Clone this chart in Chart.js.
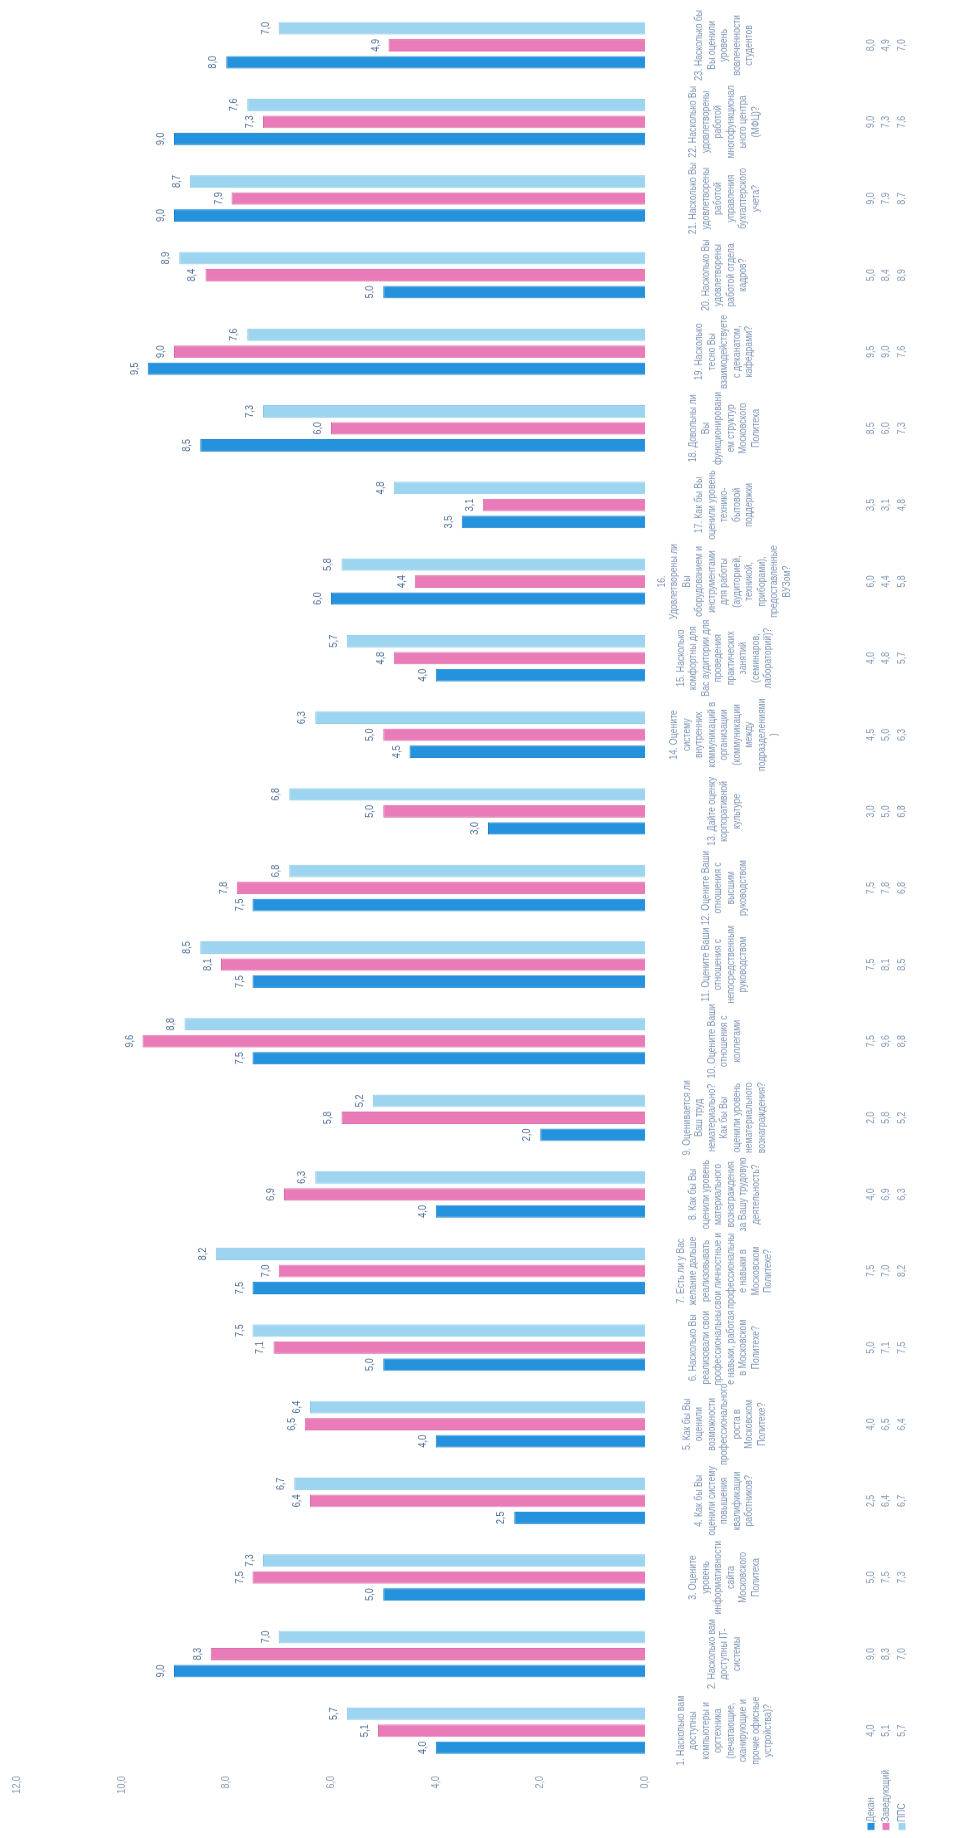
<!DOCTYPE html>
<html>
<head>
<meta charset="utf-8">
<script src="https://cdn.jsdelivr.net/npm/chart.js"></script>
<style>
html, body { margin: 0; padding: 0; background: #fff; overflow: hidden; }
/* the chart is drawn upright, squeezed along its width (narrow type like the scan)
   and turned a quarter turn to the left */
#wrap {
    position: absolute; left: 0; top: 0;
    height: 968px;
    transform-origin: 0 0;
}
#wrap canvas { display: block; }
</style>
</head>
<body>
<div id="wrap"><canvas id="chart"></canvas></div>
<script>
// ===== DATA =====
const categories = [
    ['1. Насколько вам', 'доступны', 'компьютеры и', 'оргтехника', '(печатающие,', 'сканирующие и', 'прочие офисные', 'устройства)?'],
    ['2. Насколько вам', 'доступны IT-', 'системы'],
    ['3. Оцените', 'уровень', 'информативности', 'сайта', 'Московского', 'Политеха'],
    ['4. Как бы Вы', 'оценили систему', 'повышения', 'квалификации', 'работников?'],
    ['5. Как бы Вы', 'оценили', 'возможности', 'профессионального', 'роста в', 'Московском', 'Политехе?'],
    ['6. Насколько Вы', 'реализовали свои', 'профессиональны', 'е навыки, работая', 'в Московском', 'Политехе?'],
    ['7. Есть ли у Вас', 'желание дальше', 'реализовывать', 'свои личностные и', 'профессиональны', 'е навыки в', 'Московском', 'Политехе?'],
    ['8. Как бы Вы', 'оценили уровень', 'материального', 'вознаграждения', 'за Вашу трудовую', 'деятельность?'],
    ['9. Оценивается ли', 'Ваш труд', 'нематериально?', 'Как бы Вы', 'оценили уровень', 'нематериального', 'вознаграждения?'],
    ['10. Оцените Ваши', 'отношения с', 'коллегами'],
    ['11. Оцените Ваши', 'отношения с', 'непосредственным', 'руководством'],
    ['12. Оцените Ваши', 'отношения с', 'высшим', 'руководством'],
    ['13. Дайте оценку', 'корпоративной', 'культуре'],
    ['14. Оцените', 'систему', 'внутренних', 'коммуникаций в', 'организации', '(коммуникации', 'между', 'подразделениями', ')'],
    ['15. Насколько', 'комфортны для', 'Вас аудитории для', 'проведения', 'практических', 'занятий', '(семинаров,', 'лабораторий)?'],
    ['16.', 'Удовлетворены ли', 'Вы', 'оборудованием и', 'инструментами', 'для работы', '(аудиторией,', 'техникой,', 'приборами),', 'предоставленные', 'ВУЗом?'],
    ['17. Как бы Вы', 'оценили уровень', 'технико-', 'бытовой', 'поддержки'],
    ['18. Довольны ли', 'Вы', 'функционировани', 'ем структур', 'Московского', 'Политеха'],
    ['19. Насколько', 'тесно Вы', 'взаимодействуете', 'с деканатом,', 'кафедрами?'],
    ['20. Насколько Вы', 'удовлетворены', 'работой отдела', 'кадров?'],
    ['21. Насколько Вы', 'удовлетворены', 'работой', 'управления', 'бухгалтерского', 'учета?'],
    ['22. Насколько Вы', 'удовлетворены', 'работой', 'многофункционал', 'ьного центра', '(МФЦ)?'],
    ['23. Насколько бы', 'Вы оценили', 'уровень', 'вовлеченности', 'студентов']
];

const dekanValues = [4.0, 9.0, 5.0, 2.5, 4.0, 5.0, 7.5, 4.0, 2.0, 7.5, 7.5, 7.5, 3.0, 4.5, 4.0, 6.0, 3.5, 8.5, 9.5, 5.0, 9.0, 9.0, 8.0];
const zavValues   = [5.1, 8.3, 7.5, 6.4, 6.5, 7.1, 7.0, 6.9, 5.8, 9.6, 8.1, 7.8, 5.0, 5.0, 4.8, 4.4, 3.1, 6.0, 9.0, 8.4, 7.9, 7.3, 4.9];
const ppsValues   = [5.7, 7.0, 7.3, 6.7, 6.4, 7.5, 8.2, 6.3, 5.2, 8.8, 8.5, 6.8, 6.8, 6.3, 5.7, 5.8, 4.8, 7.3, 7.6, 8.9, 8.7, 7.6, 7.0];

const seriesNames = ['Декан', 'Заведующий', 'ППС'];
const seriesColors = ['#2592de', '#e97cb8', '#9dd5f1'];
const seriesBorders = ['#1b80cc', '#d96aa7', '#86c7e6'];

const yMin = 0;
const yMax = 12;
const yStep = 2;

// ===== LAYOUT =====
const PAGE_H = 1838;           // length of the chart once turned
const SX = 0.83;               // squeeze along the category direction
const CW = Math.round(PAGE_H / SX);
const CH = 968;
const K = CW / PAGE_H;         // page px -> canvas px along the width

const FONT = "'Liberation Sans', Arial, sans-serif";
const TEXT = '#7e95b6';
const VALUE_TEXT = '#4d6b96';
const tableRows = [871, 886, 902];

const canvas = document.getElementById('chart');
canvas.width = CW;
canvas.height = CH;
const wrap = document.getElementById('wrap');
wrap.style.width = CW + 'px';
wrap.style.transform = `translateY(${PAGE_H}px) rotate(-90deg) scaleX(${1 / K})`;

function fmt(v) {
    return v.toFixed(1).replace('.', ',');
}

// value above each bar
const barLabels = {
    id: 'barLabels',
    afterDatasetsDraw(chart) {
        const ctx = chart.ctx;
        ctx.save();
        ctx.font = '11px ' + FONT;
        ctx.fillStyle = VALUE_TEXT;
        ctx.textAlign = 'center';
        ctx.textBaseline = 'alphabetic';
        chart.data.datasets.forEach((ds, i) => {
            chart.getDatasetMeta(i).data.forEach((bar, j) => {
                ctx.fillText(fmt(ds.data[j]), bar.x, bar.y - 10);
            });
        });
        ctx.restore();
    }
};

// data table under the axis, legend keys as row headers
const dataTable = {
    id: 'dataTable',
    afterDraw(chart) {
        const ctx = chart.ctx;
        const xs = chart.scales.x;
        ctx.save();
        ctx.font = '10.5px ' + FONT;
        ctx.textBaseline = 'middle';
        chart.data.datasets.forEach((ds, i) => {
            const y = tableRows[i];
            ctx.fillStyle = ds.backgroundColor;
            ctx.fillRect(8 * K, y - 3.5, 7 * K, 7);
            ctx.fillStyle = TEXT;
            ctx.textAlign = 'left';
            ctx.fillText(ds.label, 16 * K, y);
            ctx.textAlign = 'center';
            ds.data.forEach((v, j) => {
                ctx.fillText(fmt(v), xs.getPixelForValue(j), y);
            });
        });
        ctx.restore();
    }
};

const values = [dekanValues, zavValues, ppsValues];

new Chart(canvas, {
    type: 'bar',
    data: {
        labels: categories,
        datasets: seriesNames.map((name, i) => ({
            label: name,
            data: values[i],
            backgroundColor: seriesColors[i],
            borderColor: seriesBorders[i],
            borderWidth: 1,
            categoryPercentage: 0.666,
            barPercentage: 0.73
        }))
    },
    options: {
        responsive: false,
        animation: false,
        devicePixelRatio: 1,
        layout: { padding: { top: 17, right: 7 * K, bottom: 0, left: 0 } },
        plugins: {
            legend: { display: false },
            tooltip: { enabled: false }
        },
        scales: {
            x: {
                grid: { display: false, drawTicks: false },
                border: { display: false },
                ticks: {
                    autoSkip: false,
                    maxRotation: 0,
                    minRotation: 0,
                    padding: 17,
                    crossAlign: 'center',
                    color: TEXT,
                    font: { family: FONT, size: 10.5, lineHeight: 1.19 }
                },
                afterFit(scale) {
                    scale.height = CH - 645;
                    // labels may spill a little past the ends, as in the original
                    scale.paddingLeft = 0;
                    scale.paddingRight = 0;
                }
            },
            y: {
                min: yMin,
                max: yMax,
                grid: { display: false, drawTicks: false },
                border: { display: false },
                ticks: {
                    stepSize: yStep,
                    padding: 7 * K,
                    color: '#8797ad',
                    font: { family: FONT, size: 11 },
                    callback: v => fmt(v)
                },
                afterFit(scale) { scale.width = 69 * K; }
            }
        }
    },
    plugins: [barLabels, dataTable]
});
</script>
</body>
</html>
